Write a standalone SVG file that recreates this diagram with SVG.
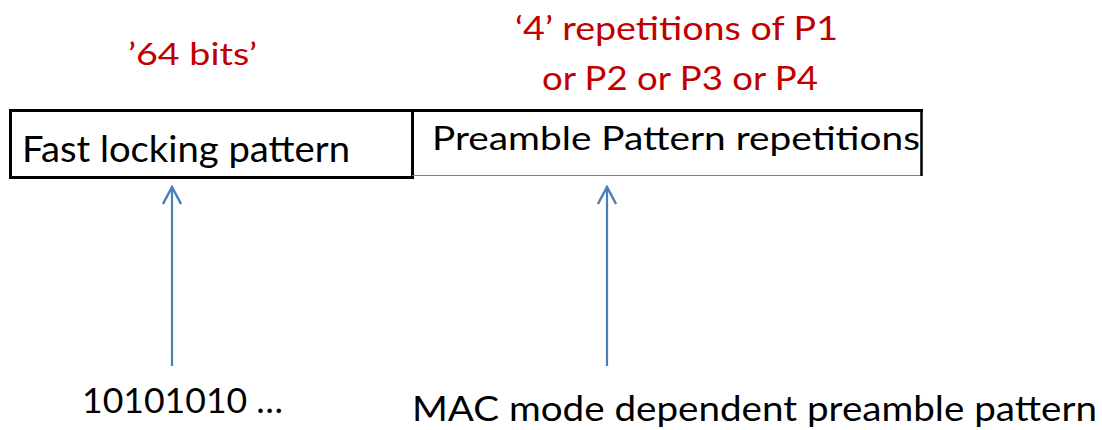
<svg xmlns="http://www.w3.org/2000/svg" width="1102" height="430" viewBox="0 0 1102 430">
  <style>
    text { font-family: Lato, "Open Sans", "Liberation Sans", sans-serif; }
    .lbl { fill: #000000; }
    .note { fill: #C00000; }
    .arrow { stroke: #4A7EBB; stroke-width: 2.2; fill: none; }
  </style>
  <defs>
    <!-- open V arrowhead, tip at the end of the line -->
    <marker id="head" viewBox="0 -1 20 20" refX="18" refY="9" markerWidth="20" markerHeight="20" markerUnits="userSpaceOnUse" orient="auto">
      <path d="M1,0 L18,9 L1,18" fill="none" stroke="#4A7EBB" stroke-width="2.4"/>
    </marker>
  </defs>
  <rect width="1102" height="430" fill="#ffffff"/>

  <!-- field annotations -->
  <text class="note" x="128" y="65" font-size="30" textLength="129" lengthAdjust="spacingAndGlyphs">’64 bits’</text>
  <text class="note" x="515" y="40" font-size="33" textLength="323" lengthAdjust="spacingAndGlyphs">‘4’ repetitions of P1</text>
  <text class="note" x="542" y="90" font-size="33" textLength="276" lengthAdjust="spacingAndGlyphs">or P2 or P3 or P4</text>

  <!-- frame field: fast locking pattern -->
  <g id="fast-locking">
    <rect x="10.5" y="110.5" width="402" height="67" fill="none" stroke="#000000" stroke-width="3"/>
    <text class="lbl" x="22" y="162" font-size="36" textLength="328" lengthAdjust="spacingAndGlyphs">Fast locking pattern</text>
  </g>

  <!-- frame field: preamble pattern repetitions -->
  <g id="preamble">
    <line x1="412" y1="175.5" x2="921" y2="175.5" stroke="#7f7f7f" stroke-width="1.2"/>
    <line x1="412" y1="110.5" x2="923" y2="110.5" stroke="#000000" stroke-width="3"/>
    <line x1="921.5" y1="109" x2="921.5" y2="176" stroke="#000000" stroke-width="2.5"/>
    <text class="lbl" x="432" y="150" font-size="32" textLength="488" lengthAdjust="spacingAndGlyphs">Preamble Pattern repetitions</text>
  </g>

  <!-- source labels -->
  <g id="fast-locking-source">
    <text class="lbl" x="82" y="413" font-size="35" textLength="201" lengthAdjust="spacingAndGlyphs">10101010 …</text>
  </g>
  <g id="preamble-source">
    <text class="lbl" x="412" y="421" font-size="35" textLength="685" lengthAdjust="spacingAndGlyphs">MAC mode dependent preamble pattern</text>
  </g>

  <g id="connectors">
    <line class="arrow" x1="172" y1="366" x2="172" y2="187" marker-end="url(#head)"/>
    <line class="arrow" x1="607" y1="366" x2="607" y2="187" marker-end="url(#head)"/>
  </g>
</svg>
